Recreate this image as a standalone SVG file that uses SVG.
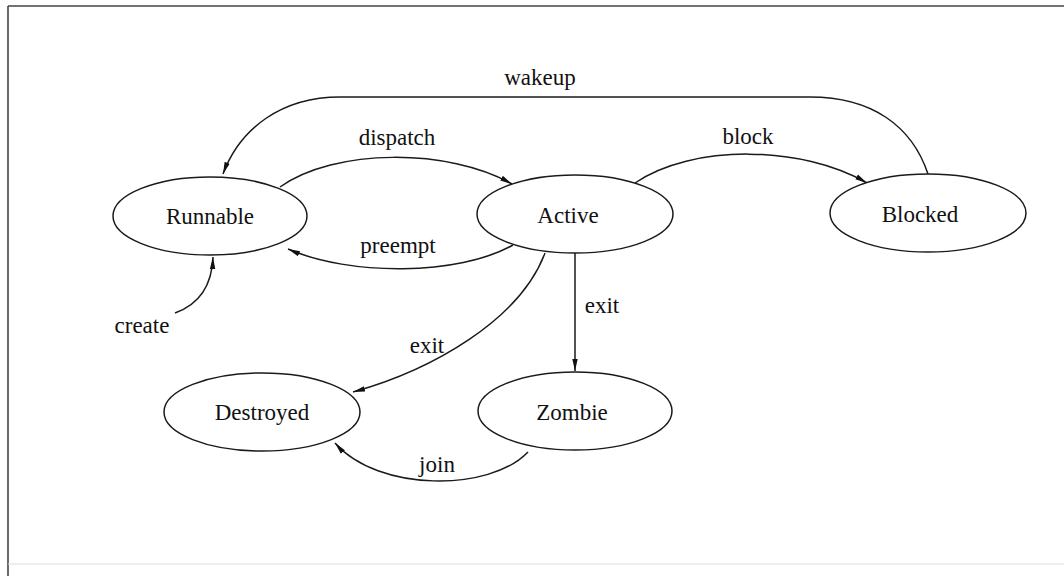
<svg xmlns="http://www.w3.org/2000/svg" width="1064" height="576" viewBox="0 0 1064 576">
  <defs>
    <style>
      .state { fill: #fff; stroke: #1a1a1a; stroke-width: 1.5; }
      .edge { fill: none; stroke: #1a1a1a; stroke-width: 1.5; marker-end: url(#arrow); }
      .frame { stroke: #444; stroke-width: 1.6; fill: none; }
      text { font-family: "Liberation Serif", "Times New Roman", serif; font-size: 23px; fill: #111; text-anchor: middle; }
    </style>
    <marker id="arrow" viewBox="0 0 12 7" refX="12" refY="3.5" markerWidth="12" markerHeight="7" markerUnits="userSpaceOnUse" orient="auto">
      <path d="M0,0.8 L12,3.5 L0,6.2 Z" fill="#111"/>
    </marker>
  </defs>

  <rect width="1064" height="576" fill="#fff"/>

  <!-- page frame -->
  <g id="frame">
    <line class="frame" x1="8" y1="6" x2="1064" y2="6"/>
    <line class="frame" x1="8" y1="6" x2="8" y2="576"/>
    <line x1="8" y1="564" x2="1064" y2="564" stroke="#ddd" stroke-width="1.2"/>
  </g>

  <!-- transitions -->
  <g id="connectors">
    <path id="e-wakeup" class="edge" d="M928,174 C912,126 872,97 810,97 L340,97 C282,97 240,128 223,174"/>
    <path id="e-dispatch" class="edge" d="M280,187 C335,148 448,148 512,184"/>
    <path id="e-block" class="edge" d="M635,183 C692,144 802,145 867,183"/>
    <path id="e-preempt" class="edge" d="M513,245 C458,276 350,276 288,249"/>
    <path id="e-create" class="edge" d="M175,313 C200,304 212,285 213,257"/>
    <path id="e-exit-zombie" class="edge" d="M575,253 L575,371"/>
    <path id="e-exit-destroyed" class="edge" d="M545,253 C520,320 432,370 353,392"/>
    <path id="e-join" class="edge" d="M528,452 C490,492 378,492 335,443"/>
  </g>

  <g id="edge-labels">
    <text x="540" y="85">wakeup</text>
    <text x="397" y="145">dispatch</text>
    <text x="748" y="144">block</text>
    <text x="398" y="253">preempt</text>
    <text x="142" y="333">create</text>
    <text x="602" y="313">exit</text>
    <text x="427" y="353">exit</text>
    <text x="437" y="472">join</text>
  </g>

  <g id="runnable">
    <ellipse class="state" cx="210" cy="216" rx="97" ry="39"/>
    <text x="210" y="224">Runnable</text>
  </g>
  <g id="active">
    <ellipse class="state" cx="575" cy="214" rx="98" ry="39"/>
    <text x="568" y="223">Active</text>
  </g>
  <g id="blocked">
    <ellipse class="state" cx="928" cy="213" rx="98" ry="39"/>
    <text x="920" y="222">Blocked</text>
  </g>
  <g id="destroyed">
    <ellipse class="state" cx="262" cy="412" rx="98" ry="39"/>
    <text x="262" y="420">Destroyed</text>
  </g>
  <g id="zombie">
    <ellipse class="state" cx="575" cy="411" rx="97" ry="39"/>
    <text x="572" y="420">Zombie</text>
  </g>
</svg>
